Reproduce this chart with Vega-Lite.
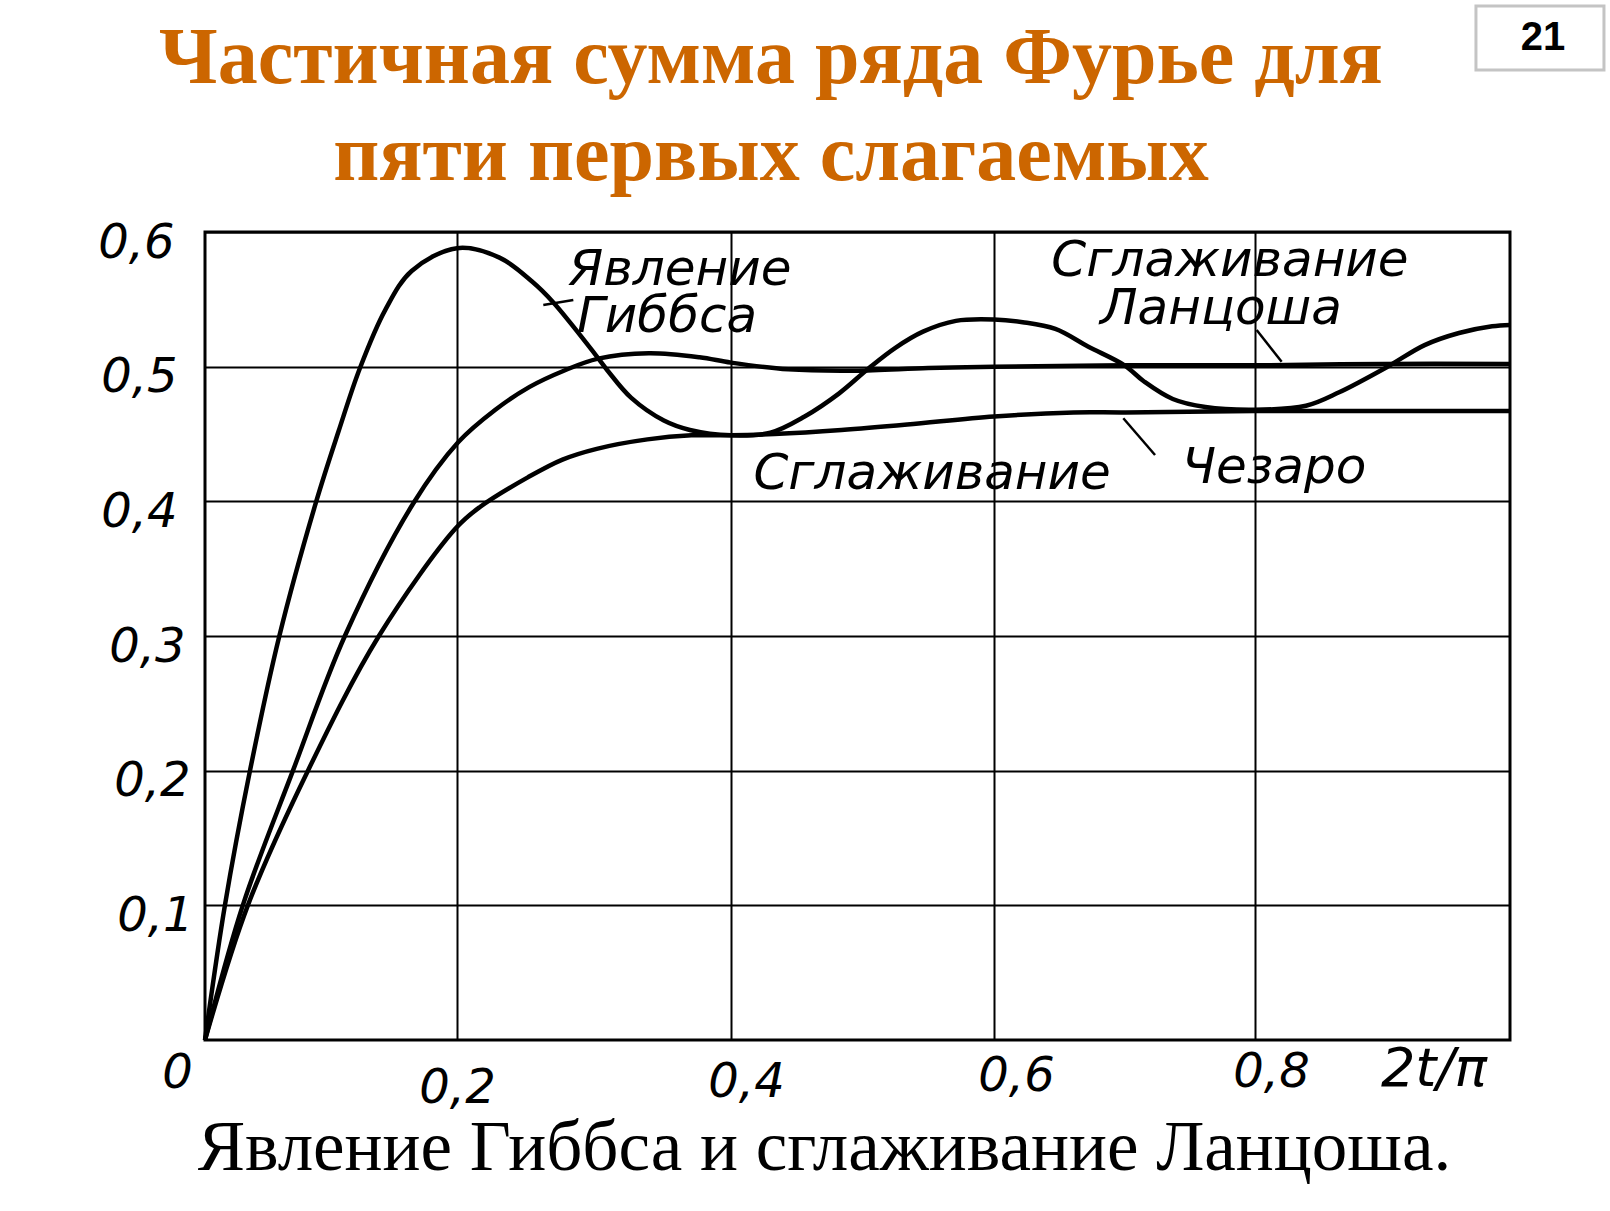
{
  "$schema": "https://vega.github.io/schema/vega-lite/v6.json",
  "width": 1305,
  "height": 808,
  "autosize": "none",
  "padding": {"left": 205, "top": 232, "right": 100, "bottom": 171},
  "background": "white",
  "config": {
    "view": {"stroke": "black", "strokeWidth": 3},
    "axis": {"domain": false, "ticks": false, "grid": true, "gridColor": "black", "gridWidth": 2, "gridOpacity": 1,
      "labelFont": "DejaVu Sans", "labelFontStyle": "italic", "labelFontSize": 48, "labelColor": "black"}
  },
  "datasets": {
    "curves": [
      {"s":"gibbs","x":0,"y":0},{"s":"gibbs","x":0.0158,"y":0.1},{"s":"gibbs","x":0.0357,"y":0.2},{"s":"gibbs","x":0.059,"y":0.3},
      {"s":"gibbs","x":0.088,"y":0.399},{"s":"gibbs","x":0.106,"y":0.452},{"s":"gibbs","x":0.123,"y":0.499},{"s":"gibbs","x":0.143,"y":0.542},
      {"s":"gibbs","x":0.164,"y":0.571},{"s":"gibbs","x":0.2,"y":0.588},{"s":"gibbs","x":0.231,"y":0.581},{"s":"gibbs","x":0.255,"y":0.563},
      {"s":"gibbs","x":0.27,"y":0.548},{"s":"gibbs","x":0.301,"y":0.509},{"s":"gibbs","x":0.31,"y":0.497},{"s":"gibbs","x":0.327,"y":0.477},
      {"s":"gibbs","x":0.351,"y":0.46},{"s":"gibbs","x":0.37,"y":0.453},{"s":"gibbs","x":0.4,"y":0.449},{"s":"gibbs","x":0.43,"y":0.451},
      {"s":"gibbs","x":0.456,"y":0.463},{"s":"gibbs","x":0.482,"y":0.48},{"s":"gibbs","x":0.505,"y":0.499},{"s":"gibbs","x":0.525,"y":0.514},
      {"s":"gibbs","x":0.546,"y":0.526},{"s":"gibbs","x":0.571,"y":0.534},{"s":"gibbs","x":0.6,"y":0.535},{"s":"gibbs","x":0.622,"y":0.533},
      {"s":"gibbs","x":0.647,"y":0.528},{"s":"gibbs","x":0.672,"y":0.515},{"s":"gibbs","x":0.7,"y":0.501},{"s":"gibbs","x":0.715,"y":0.489},
      {"s":"gibbs","x":0.737,"y":0.476},{"s":"gibbs","x":0.762,"y":0.47},{"s":"gibbs","x":0.8,"y":0.468},{"s":"gibbs","x":0.84,"y":0.471},
      {"s":"gibbs","x":0.866,"y":0.481},{"s":"gibbs","x":0.904,"y":0.5},{"s":"gibbs","x":0.933,"y":0.516},{"s":"gibbs","x":0.96,"y":0.525},
      {"s":"gibbs","x":0.986,"y":0.53},{"s":"gibbs","x":1.0,"y":0.531},
      {"s":"lanczos","x":0,"y":0},{"s":"lanczos","x":0.03,"y":0.1},{"s":"lanczos","x":0.0698,"y":0.2},{"s":"lanczos","x":0.111,"y":0.3},
      {"s":"lanczos","x":0.165,"y":0.398},{"s":"lanczos","x":0.201,"y":0.444},{"s":"lanczos","x":0.228,"y":0.468},{"s":"lanczos","x":0.253,"y":0.485},
      {"s":"lanczos","x":0.278,"y":0.497},{"s":"lanczos","x":0.303,"y":0.506},{"s":"lanczos","x":0.34,"y":0.51},{"s":"lanczos","x":0.377,"y":0.507},
      {"s":"lanczos","x":0.4,"y":0.503},{"s":"lanczos","x":0.4435,"y":0.498},{"s":"lanczos","x":0.494,"y":0.497},{"s":"lanczos","x":0.55,"y":0.499},
      {"s":"lanczos","x":0.6,"y":0.5},{"s":"lanczos","x":0.7,"y":0.501},{"s":"lanczos","x":0.8,"y":0.501},{"s":"lanczos","x":0.9,"y":0.502},
      {"s":"lanczos","x":1.0,"y":0.502},
      {"s":"cesaro","x":0,"y":0},{"s":"cesaro","x":0.034,"y":0.1},{"s":"cesaro","x":0.0817,"y":0.2},{"s":"cesaro","x":0.138,"y":0.3},
      {"s":"cesaro","x":0.199,"y":0.38},{"s":"cesaro","x":0.217,"y":0.396},{"s":"cesaro","x":0.252,"y":0.418},{"s":"cesaro","x":0.277,"y":0.431},
      {"s":"cesaro","x":0.302,"y":0.439},{"s":"cesaro","x":0.339,"y":0.446},{"s":"cesaro","x":0.371,"y":0.449},{"s":"cesaro","x":0.4,"y":0.449},
      {"s":"cesaro","x":0.433,"y":0.45},{"s":"cesaro","x":0.484,"y":0.453},{"s":"cesaro","x":0.534,"y":0.457},{"s":"cesaro","x":0.6,"y":0.463},
      {"s":"cesaro","x":0.661,"y":0.466},{"s":"cesaro","x":0.701,"y":0.466},{"s":"cesaro","x":0.8,"y":0.467},{"s":"cesaro","x":0.9,"y":0.467},
      {"s":"cesaro","x":1.0,"y":0.467}
    ],
    "labels": [
      {"text":"Явление","x":0.3628,"y":0.5718},
      {"text":"Гиббса","x":0.3533,"y":0.5369},
      {"text":"Сглаживание","x":0.7808,"y":0.5785},
      {"text":"Ланцоша","x":0.7739,"y":0.5428},
      {"text":"Сглаживание","x":0.5529,"y":0.4203},
      {"text":"Чезаро","x":0.8149,"y":0.4248}
    ],
    "heading": [
      {"text":"Частичная сумма ряда Фурье для","x":0.4304,"y":0.7106},
      {"text":"пяти первых слагаемых","x":0.4304,"y":0.6386}
    ],
    "pointers": [
      {"x":0.263,"y":0.5458,"x2":0.2849,"y2":0.5495},
      {"x":0.8013,"y":0.5272,"x2":0.8209,"y2":0.5037},
      {"x":0.6991,"y":0.4617,"x2":0.7234,"y2":0.4344}
    ],
    "slide": [
      {"text":"21","x":1.0259,"y":0.7444,"bx":0.9733,"bx2":1.0737,"by":0.7678,"by2":0.7203}
    ]
  },
  "layer": [
    {
      "data": {"name": "curves"},
      "mark": {"type": "line", "color": "black", "strokeWidth": 4.5, "interpolate": "catmull-rom"},
      "encoding": {
        "x": {"field": "x", "type": "quantitative",
          "scale": {"domain": [0, 0.2, 0.4, 0.6, 0.8, 1.0], "range": [0, 252, 526, 789, 1050, 1305], "nice": false, "zero": false},
          "axis": {
            "values": [0, 0.2, 0.4, 0.6, 0.8, 0.94],
            "labelExpr": "datum.value == 0 ? '0' : (abs(datum.value - 0.94) < 0.001 ? '2t/π' : replace(format(datum.value, '.1f'), '.', ','))",
            "labelBaseline": "middle",
            "labelAlign": "center",
            "gridOpacity": {"condition": [{"test": "datum.value == 0", "value": 0}, {"test": "abs(datum.value - 0.94) < 0.001", "value": 0}], "value": 1},
            "labelOffset": {"condition": [{"test": "datum.value == 0", "value": -28}, {"test": "abs(datum.value - 0.4) < 0.001", "value": 15}, {"test": "abs(datum.value - 0.6) < 0.001", "value": 22}, {"test": "abs(datum.value - 0.8) < 0.001", "value": 16}], "value": 0},
            "labelPadding": {"condition": [{"test": "datum.value == 0", "value": 33}, {"test": "abs(datum.value - 0.2) < 0.001", "value": 48}, {"test": "abs(datum.value - 0.4) < 0.001", "value": 42}, {"test": "abs(datum.value - 0.6) < 0.001", "value": 36}, {"test": "abs(datum.value - 0.8) < 0.001", "value": 32}], "value": 29},
            "labelFontSize": {"condition": {"test": "abs(datum.value - 0.94) < 0.001", "value": 54}, "value": 48},
            "title": "Явление Гиббса и сглаживание Ланцоша.",
            "titleFont": "Liberation Serif", "titleFontSize": 71, "titleFontWeight": "normal", "titleColor": "black",
            "titleX": 619, "titleY": 129, "titleAlign": "center", "titleBaseline": "alphabetic", "titleAngle": 0
          }
        },
        "y": {"field": "y", "type": "quantitative",
          "scale": {"domain": [0, 0.6], "nice": false, "zero": true},
          "axis": {
            "values": [0.1, 0.2, 0.3, 0.4, 0.5, 0.6],
            "labelExpr": "replace(format(datum.value, '.1f'), '.', ',')",
            "labelOffset": 11,
            "labelPadding": {"condition": [{"test": "abs(datum.value - 0.6) < 0.001", "value": 31}, {"test": "abs(datum.value - 0.5) < 0.001", "value": 28}, {"test": "abs(datum.value - 0.4) < 0.001", "value": 28}, {"test": "abs(datum.value - 0.3) < 0.001", "value": 20}, {"test": "abs(datum.value - 0.2) < 0.001", "value": 15}], "value": 12},
            "title": null
          }
        },
        "detail": {"field": "s", "type": "nominal"}
      }
    },
    {
      "data": {"name": "labels"},
      "mark": {"type": "text", "font": "DejaVu Sans", "fontStyle": "italic", "fontSize": 50, "align": "center", "baseline": "middle", "color": "black"},
      "encoding": {
        "x": {"field": "x", "type": "quantitative"},
        "y": {"field": "y", "type": "quantitative"},
        "text": {"field": "text", "type": "nominal"}
      }
    },
    {
      "data": {"name": "heading"},
      "mark": {"type": "text", "font": "Liberation Serif", "fontWeight": "bold", "fontSize": 80, "align": "center", "baseline": "alphabetic", "color": "#CC6600"},
      "encoding": {
        "x": {"field": "x", "type": "quantitative"},
        "y": {"field": "y", "type": "quantitative"},
        "text": {"field": "text", "type": "nominal"}
      }
    },
    {
      "data": {"name": "pointers"},
      "mark": {"type": "rule", "color": "black", "strokeWidth": 2.5},
      "encoding": {
        "x": {"field": "x", "type": "quantitative"},
        "y": {"field": "y", "type": "quantitative"},
        "x2": {"field": "x2"},
        "y2": {"field": "y2"}
      }
    },
    {
      "data": {"name": "slide"},
      "mark": {"type": "rect", "fill": "white", "stroke": "#c4c4c4", "strokeWidth": 3},
      "encoding": {
        "x": {"field": "bx", "type": "quantitative"},
        "x2": {"field": "bx2"},
        "y": {"field": "by", "type": "quantitative"},
        "y2": {"field": "by2"}
      }
    },
    {
      "data": {"name": "slide"},
      "mark": {"type": "text", "font": "Liberation Sans", "fontWeight": "bold", "fontSize": 40, "align": "center", "baseline": "middle", "color": "black"},
      "encoding": {
        "x": {"field": "x", "type": "quantitative"},
        "y": {"field": "y", "type": "quantitative"},
        "text": {"field": "text", "type": "nominal"}
      }
    }
  ]
}
